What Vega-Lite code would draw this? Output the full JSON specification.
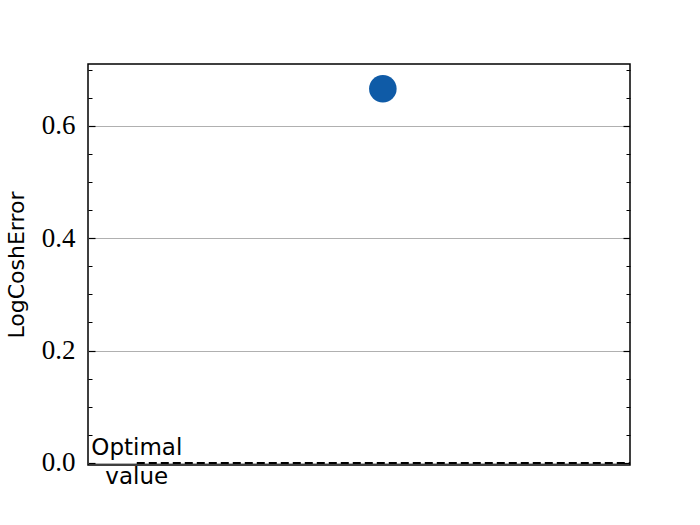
{
  "$schema": "https://vega.github.io/schema/vega-lite/v6.json",
  "width": 542,
  "height": 401,
  "autosize": "none",
  "padding": {"left": 88, "top": 64, "right": 70, "bottom": 60},
  "background": "white",
  "datasets": {
    "pts": [{"run": "A", "pos": 0.544, "LogCoshError": 0.666}],
    "opt": [{"label": "Optimal value", "start": 0.09, "end": 1.0, "value": 0}]
  },
  "config": {
    "view": {"stroke": "black", "strokeWidth": 1.5},
    "axis": {"labelFont": "Liberation Serif", "titleFont": "DejaVu Sans"}
  },
  "resolve": {"axis": {"y": "independent"}},
  "layer": [
    {
      "data": {"name": "pts"},
      "mark": {"type": "point", "filled": true, "opacity": 1, "color": "#0F5BA7", "size": 760},
      "encoding": {
        "x": {"field": "pos", "type": "quantitative", "scale": {"domain": [0, 1], "nice": false, "zero": false}, "axis": null},
        "y": {
          "field": "LogCoshError", "type": "quantitative",
          "scale": {"domain": [-0.0036, 0.71], "nice": false, "zero": false},
          "axis": {
            "orient": "left", "values": [0, 0.2, 0.4, 0.6], "format": ".1f",
            "title": "LogCoshError", "titleFontSize": 22, "titleFontWeight": "normal", "titleColor": "black", "titlePadding": 13,
            "labelFontSize": 27, "labelColor": "black", "labelPadding": 20,
            "tickSize": -7, "tickColor": "black", "tickWidth": 1.2,
            "domain": false,
            "grid": true, "gridColor": "#b0b0b0", "gridWidth": 1
          }
        }
      }
    },
    {
      "data": {"name": "opt"},
      "mark": {"type": "rule", "color": "black", "strokeWidth": 2, "strokeDash": [8, 4]},
      "encoding": {
        "x": {"field": "start", "type": "quantitative"},
        "x2": {"field": "end"},
        "y": {
          "field": "value", "type": "quantitative",
          "axis": {
            "orient": "left", "values": [0.05, 0.1, 0.15, 0.25, 0.3, 0.35, 0.45, 0.5, 0.55, 0.65, 0.7],
            "labels": false, "title": null, "domain": false, "grid": false,
            "tickSize": -4, "tickColor": "black", "tickWidth": 1
          }
        }
      }
    },
    {
      "data": {"name": "opt"},
      "mark": {"type": "text", "font": "DejaVu Sans", "fontSize": 23, "align": "center", "baseline": "middle", "lineBreak": " ", "lineHeight": 29, "dy": -15, "color": "black"},
      "encoding": {
        "x": {"field": "start", "type": "quantitative"},
        "y": {
          "field": "value", "type": "quantitative",
          "axis": {
            "orient": "right", "values": [0, 0.2, 0.4, 0.6],
            "labels": false, "title": null, "domain": false, "grid": false,
            "tickSize": -7, "tickColor": "black", "tickWidth": 1.2
          }
        },
        "text": {"field": "label"}
      }
    },
    {
      "data": {"name": "pts"},
      "mark": {"type": "point", "opacity": 0},
      "encoding": {
        "x": {"field": "pos", "type": "quantitative"},
        "y": {
          "field": "LogCoshError", "type": "quantitative",
          "axis": {
            "orient": "right", "values": [0.05, 0.1, 0.15, 0.25, 0.3, 0.35, 0.45, 0.5, 0.55, 0.65, 0.7],
            "labels": false, "title": null, "domain": false, "grid": false,
            "tickSize": -4, "tickColor": "black", "tickWidth": 1
          }
        }
      }
    }
  ]
}
